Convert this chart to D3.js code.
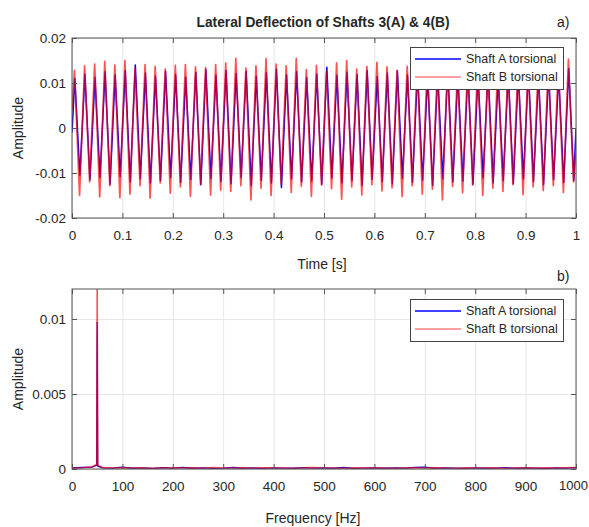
<!DOCTYPE html>
<html>
<head>
<meta charset="utf-8">
<script src="https://cdn.jsdelivr.net/npm/d3@7"></script>
<style>
  body { margin: 0; background: #fff; }
  svg { display: block; font-family: "Liberation Sans", Arial, sans-serif; }
</style>
</head>
<body>
<svg id="chart" width="589" height="527"></svg>
<script>
// ---- data ----
const seriesNames = ["Shaft A torsional", "Shaft B torsional"];

// time signal: one peak and one trough per 50 Hz cycle (50 cycles in 1 s)
const bluePeak = [0.0110,0.0120,0.0112,0.0125,0.0118,0.0128,0.0140,0.0122,0.0115,0.0126,
  0.0119,0.0113,0.0124,0.0130,0.0117,0.0128,0.0121,0.0126,0.0115,0.0123,
  0.0131,0.0118,0.0125,0.0112,0.0120,0.0135,0.0117,0.0124,0.0119,0.0128,
  0.0114,0.0122,0.0127,0.0118,0.0125,0.0113,0.0121,0.0129,0.0116,0.0124,
  0.0118,0.0126,0.0112,0.0123,0.0120,0.0128,0.0115,0.0122,0.0119,0.0132];
const blueTrough = [-0.0105,-0.0115,-0.0110,-0.0125,-0.0108,-0.0120,-0.0113,-0.0122,-0.0117,-0.0110,
  -0.0121,-0.0114,-0.0126,-0.0112,-0.0119,-0.0124,-0.0110,-0.0128,-0.0116,-0.0122,
  -0.0132,-0.0113,-0.0120,-0.0118,-0.0125,-0.0111,-0.0122,-0.0117,-0.0127,-0.0114,
  -0.0119,-0.0124,-0.0112,-0.0121,-0.0116,-0.0128,-0.0113,-0.0120,-0.0118,-0.0125,
  -0.0111,-0.0122,-0.0117,-0.0124,-0.0113,-0.0119,-0.0126,-0.0115,-0.0121,-0.0117];
const redPeak = [0.0128,0.0138,0.0142,0.0148,0.0140,0.0150,0.0132,0.0141,0.0137,0.0131,
  0.0139,0.0141,0.0136,0.0134,0.0141,0.0144,0.0155,0.0133,0.0138,0.0154,
  0.0142,0.0138,0.0155,0.0130,0.0139,0.0126,0.0145,0.0150,0.0131,0.0137,
  0.0146,0.0136,0.0128,0.0137,0.0135,0.0142,0.0130,0.0138,0.0133,0.0141,
  0.0136,0.0129,0.0144,0.0131,0.0139,0.0135,0.0130,0.0141,0.0137,0.0153];
const redTrough = [-0.0150,-0.0120,-0.0153,-0.0128,-0.0155,-0.0147,-0.0128,-0.0156,-0.0122,-0.0145,
  -0.0131,-0.0152,-0.0126,-0.0149,-0.0138,-0.0141,-0.0128,-0.0160,-0.0134,-0.0150,
  -0.0125,-0.0143,-0.0130,-0.0152,-0.0127,-0.0135,-0.0158,-0.0131,-0.0149,-0.0126,
  -0.0140,-0.0133,-0.0152,-0.0128,-0.0147,-0.0136,-0.0160,-0.0130,-0.0144,-0.0127,
  -0.0150,-0.0134,-0.0141,-0.0126,-0.0148,-0.0131,-0.0139,-0.0128,-0.0143,-0.0120];
const blueEnds = [-0.001, 0.000];   // value at t = 0 and t = 1
const redEnds = [0.004, -0.005];

// spectrum
const freqs = [0,20,40,49,50,51,60,80,100,120,140,160,180,200,220,240,260,280,300,
  320,340,360,380,400,420,440,460,480,500,520,540,560,580,600,620,640,660,680,700,
  720,740,760,780,800,820,840,860,880,900,920,940,960,980,1000];
const blueSpec = [0.00008,0.00010,0.00012,0.00025,0.0098,0.00020,0.00008,0.00006,0.00012,0.00005,
  0.00007,0.00004,0.00009,0.00006,0.00011,0.00005,0.00008,0.00004,0.00006,0.00010,
  0.00005,0.00007,0.00004,0.00008,0.00006,0.00005,0.00009,0.00006,0.00007,0.00005,
  0.00010,0.00004,0.00006,0.00008,0.00005,0.00007,0.00006,0.00011,0.00012,0.00005,
  0.00007,0.00006,0.00004,0.00008,0.00005,0.00006,0.00009,0.00005,0.00007,0.00006,
  0.00004,0.00008,0.00006,0.00009];
const redSpec = [0.00006,0.00009,0.00015,0.00030,0.0135,0.00025,0.00010,0.00007,0.00009,0.00006,
  0.00008,0.00005,0.00007,0.00009,0.00006,0.00008,0.00005,0.00010,0.00006,0.00007,
  0.00009,0.00005,0.00008,0.00006,0.00007,0.00005,0.00008,0.00010,0.00006,0.00007,
  0.00005,0.00008,0.00006,0.00009,0.00007,0.00005,0.00006,0.00008,0.00007,0.00009,
  0.00006,0.00005,0.00008,0.00006,0.00007,0.00009,0.00005,0.00006,0.00008,0.00007,
  0.00009,0.00006,0.00008,0.00010];

// ticks
const timeTicks = [0,0.1,0.2,0.3,0.4,0.5,0.6,0.7,0.8,0.9,1];
const defTicks = [-0.02,-0.01,0,0.01,0.02];
const freqTicks = [0,100,200,300,400,500,600,700,800,900,1000];
const ampTicks = [0,0.005,0.01];

// ---- layout ----
const svg = d3.select("#chart");
const left = 72, right = 576;
const textColor = "#262626";
const frameColor = "#555";
const gridColor = "#e6e6e6";
const blue = "#0000ff", red = "#ff0000", redOpacity = 0.68;

// build the zig-zag signal from peaks and troughs
const cycle = d3.range(50);
const toSignal = (peaks, troughs, ends, shift) => {
  const pts = [[0, ends[0]]];
  cycle.forEach(k => {
    pts.push([0.005 + 0.02 * k + shift, peaks[k]]);
    pts.push([0.015 + 0.02 * k + shift, troughs[k]]);
  });
  pts.push([1, ends[1]]);
  return pts;
};
const blueSignal = toSignal(bluePeak, blueTrough, blueEnds, 0.0006);
const redSignal = toSignal(redPeak, redTrough, redEnds, 0);

const fmt = d => d === 0 ? "0" : String(d);

const drawPanel = (top, bottom, x, y, xTicks, yTicks, id) => {
  const g = svg.append("g");
  const h = bottom - top, w = right - left;

  // grid
  g.append("g")
    .attr("transform", `translate(0,${bottom})`)
    .call(d3.axisBottom(x).tickValues(xTicks).tickSize(-h).tickFormat(""))
    .call(a => a.select(".domain").remove())
    .selectAll("line").attr("stroke", gridColor);
  g.append("g")
    .attr("transform", `translate(${left},0)`)
    .call(d3.axisLeft(y).tickValues(yTicks).tickSize(-w).tickFormat(""))
    .call(a => a.select(".domain").remove())
    .selectAll("line").attr("stroke", gridColor);

  svg.append("clipPath").attr("id", id)
    .append("rect")
      .attr("x", left).attr("y", top)
      .attr("width", w).attr("height", h);

  const plot = g.append("g").attr("clip-path", `url(#${id})`);

  // frame
  g.append("rect")
    .attr("x", left).attr("y", top)
    .attr("width", w).attr("height", h)
    .attr("fill", "none")
    .attr("stroke", frameColor);

  const styleAxis = a => {
    a.select(".domain").remove();
    a.selectAll("line").attr("stroke", frameColor);
    a.selectAll("text")
      .attr("fill", textColor)
      .style("font-size", "13.5px")
      .style("font-family", "\"Liberation Sans\", Arial, sans-serif");
  };

  const xAxis = g.append("g")
    .attr("transform", `translate(0,${bottom})`)
    .call(d3.axisBottom(x).tickValues(xTicks).tickSize(-5).tickPadding(12).tickFormat(fmt))
    .call(styleAxis);
  // last label sits against the page edge, as in the reference
  xAxis.selectAll(".tick text")
    .filter(d => d === xTicks[xTicks.length - 1] && String(d).length > 2)
    .attr("dx", -3)
    .style("font-size", "13px");

  g.append("g")
    .attr("transform", `translate(0,${top})`)
    .call(d3.axisTop(x).tickValues(xTicks).tickSize(-5).tickFormat(""))
    .call(styleAxis);
  g.append("g")
    .attr("transform", `translate(${left},0)`)
    .call(d3.axisLeft(y).tickValues(yTicks).tickSize(-5).tickPadding(6).tickFormat(fmt))
    .call(styleAxis);
  g.append("g")
    .attr("transform", `translate(${right},0)`)
    .call(d3.axisRight(y).tickValues(yTicks).tickSize(-5).tickFormat(""))
    .call(styleAxis);

  // y label
  g.append("text")
    .attr("transform", `translate(23,${(top + bottom) / 2}) rotate(-90)`)
    .attr("text-anchor", "middle")
    .attr("fill", textColor)
    .style("font-size", "14px")
    .text("Amplitude");

  return plot;
};

const drawLegend = (top) => {
  const lg = svg.append("g");
  lg.append("rect")
    .attr("x", 410.5).attr("y", top + 0.5)
    .attr("width", 153).attr("height", 42)
    .attr("fill", "#fff")
    .attr("stroke", "#444");
  const rows = lg.selectAll(".legend-row")
    .data(seriesNames)
    .join("g")
    .attr("class", "legend-row")
    .attr("transform", (d, i) => `translate(0,${top + 12 + i * 18})`);
  rows.append("line")
    .attr("x1", 415).attr("x2", 461)
    .attr("stroke", (d, i) => i === 0 ? blue : red)
    .attr("stroke-opacity", (d, i) => i === 0 ? 1 : 0.5)
    .attr("stroke-width", 1.3);
  rows.append("text")
    .attr("x", 466)
    .attr("dy", "0.35em")
    .attr("fill", textColor)
    .style("font-size", "12.5px")
    .text(d => d);
};

// ---- panel a) ----
const x1 = d3.scaleLinear().domain([0, 1]).range([left, right]);
const y1 = d3.scaleLinear().domain([-0.02, 0.02]).range([218, 38]);
const plot1 = drawPanel(38, 218, x1, y1, timeTicks, defTicks, "clip-a");
const line1 = d3.line().x(d => x1(d[0])).y(d => y1(d[1]));

plot1.append("path")
  .datum(blueSignal)
  .attr("d", line1)
  .attr("fill", "none")
  .attr("stroke", blue)
  .attr("stroke-width", 1.5)
  .attr("stroke-linejoin", "round");
plot1.append("path")
  .datum(redSignal)
  .attr("d", line1)
  .attr("fill", "none")
  .attr("stroke", red)
  .attr("stroke-opacity", redOpacity)
  .attr("stroke-width", 1.7)
  .attr("stroke-linejoin", "round");

drawLegend(47);

// ---- panel b) ----
const x2 = d3.scaleLinear().domain([0, 1000]).range([left, right]);
const y2 = d3.scaleLinear().domain([0, 0.012]).range([469, 289]);
const plot2 = drawPanel(289, 469, x2, y2, freqTicks, ampTicks, "clip-b");
const line2 = d3.line().x((d, i) => x2(freqs[i])).y(d => y2(d));

plot2.append("path")
  .datum(blueSpec)
  .attr("d", line2)
  .attr("fill", "none")
  .attr("stroke", blue)
  .attr("stroke-width", 1.3);
plot2.append("path")
  .datum(redSpec)
  .attr("d", line2)
  .attr("fill", "none")
  .attr("stroke", red)
  .attr("stroke-opacity", redOpacity)
  .attr("stroke-width", 1.5);

drawLegend(299);

// ---- titles and axis labels ----
const labels = svg.append("g").attr("fill", textColor);
labels.append("text")
  .attr("x", 323).attr("y", 27)
  .attr("text-anchor", "middle")
  .style("font-size", "14px")
  .style("font-weight", "bold")
  .attr("textLength", 253)
  .attr("lengthAdjust", "spacingAndGlyphs")
  .text("Lateral Deflection of Shafts 3(A) & 4(B)");
labels.append("text")
  .attr("x", 557).attr("y", 27)
  .style("font-size", "14px")
  .text("a)");
labels.append("text")
  .attr("x", 322).attr("y", 269)
  .attr("text-anchor", "middle")
  .style("font-size", "14px")
  .text("Time [s]");
labels.append("text")
  .attr("x", 557).attr("y", 281)
  .style("font-size", "14px")
  .text("b)");
labels.append("text")
  .attr("x", 313).attr("y", 523)
  .attr("text-anchor", "middle")
  .style("font-size", "14px")
  .text("Frequency [Hz]");
</script>
</body>
</html>
